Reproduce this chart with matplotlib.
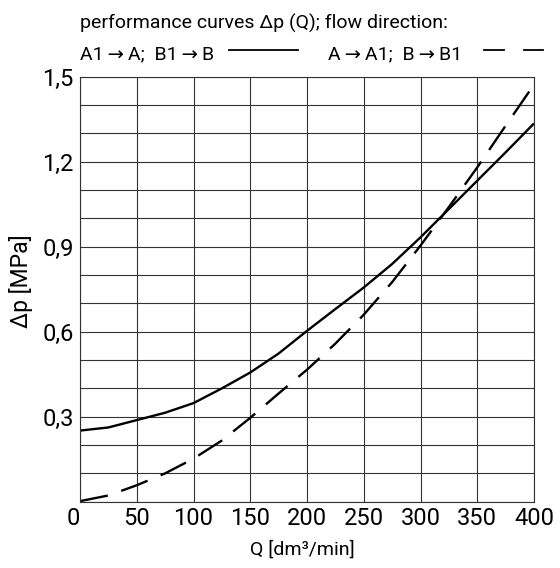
import matplotlib
matplotlib.use("Agg")
import matplotlib.pyplot as plt
from matplotlib.lines import Line2D

plt.rcParams['font.family'] = ['Roboto', 'DejaVu Sans']

# flow Q [dm3/min]
flow = [0, 25, 50, 75, 100, 125, 150, 175, 200, 225, 250, 275, 300, 325, 350, 375, 400]
# A1 -> A; B1 -> B (solid)
dp_forward = [0.251, 0.262, 0.288, 0.314, 0.348, 0.400, 0.456, 0.523, 0.603, 0.680,
              0.756, 0.839, 0.933, 1.033, 1.133, 1.233, 1.335]
# A -> A1; B -> B1 (dashed)
dp_reverse = [0.002, 0.022, 0.058, 0.100, 0.152, 0.216, 0.296, 0.382, 0.466, 0.558,
              0.660, 0.775, 0.904, 1.040, 1.180, 1.327, 1.472]

xticks = [0, 50, 100, 150, 200, 250, 300, 350, 400]
xticklabels = ["0", "50", "100", "150", "200", "250", "300", "350", "400"]
yticks = [0.3, 0.6, 0.9, 1.2, 1.5]
yticklabels = ["0,3", "0,6", "0,9", "1,2", "1,5"]

W, H = 560, 568
fig = plt.figure(figsize=(W / 100, H / 100), dpi=100)
ax = fig.add_axes([80 / W, 1 - 501.7 / H, 454 / W, 425 / H])

grid_c = "#333333"
ax.set_xlim(0, 400)
ax.set_ylim(0, 1.5)
ax.set_yticks([i / 10 for i in range(0, 16)], minor=True)
ax.set_xticks(xticks)
ax.set_xticklabels(xticklabels)
ax.set_yticks(yticks)
ax.set_yticklabels(yticklabels)
ax.grid(True, which="both", color=grid_c, linewidth=0.8)
ax.tick_params(which="both", length=0)
ax.tick_params(axis="x", labelsize=17, pad=4)
ax.tick_params(axis="y", labelsize=17, pad=27)
for lab in ax.get_yticklabels():
    lab.set_horizontalalignment("left")
ax.get_xticklabels()[0].set_horizontalalignment("right")
for s in ax.spines.values():
    s.set_color(grid_c)
    s.set_linewidth(0.8)

ax.plot(flow, dp_forward, color="black", lw=1.7, solid_capstyle="butt")
ax.plot(flow, dp_reverse, color="black", lw=1.7, linestyle=(0, (12, 6)), dash_capstyle="butt")

# header / legend
fs = 14
fig.text(80 / W, 1 - 28.3 / H, "performance curves \u0394p (Q); flow direction:",
         fontsize=fs, va="baseline", ha="left")
fig.text(80 / W, 1 - 59.3 / H, "A1\u2009\u2192\u2009A;  B1\u2009\u2192\u2009B",
         fontsize=fs, va="baseline", ha="left")
fig.text(328 / W, 1 - 59.3 / H, "A\u2009\u2192\u2009A1;  B\u2009\u2192\u2009B1",
         fontsize=fs, va="baseline", ha="left")
ly = 1 - 50 / H
fig.add_artist(Line2D([229 / W, 298 / W], [ly, ly], color="black", lw=1.3,
                      transform=fig.transFigure))
for x0, x1 in [(484, 504), (524, 543)]:
    fig.add_artist(Line2D([x0 / W, x1 / W], [ly, ly], color="black", lw=1.3,
                          transform=fig.transFigure))

fig.text(302 / W, 1 - 555 / H, "Q [dm\u00b3/min]", fontsize=14,
         va="baseline", ha="center")
fig.text(21 / W, 1 - 281.5 / H, "\u0394p [MPa]", fontsize=16.5,
         rotation=90, va="center", ha="center")

fig.savefig("out.png", dpi=100)
